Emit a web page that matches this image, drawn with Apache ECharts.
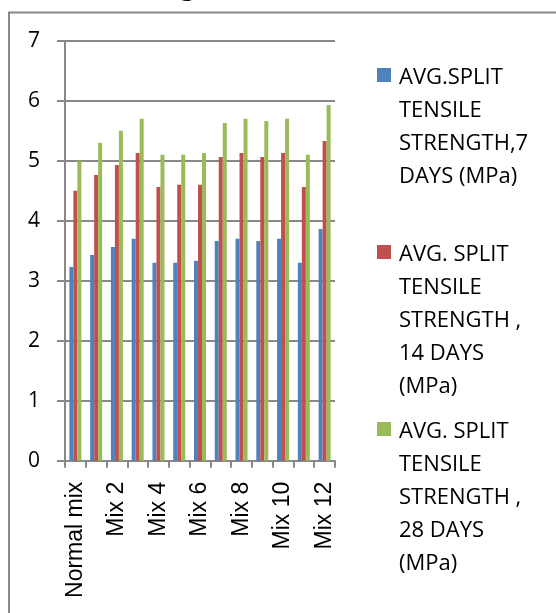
<!DOCTYPE html>
<html>
<head>
<meta charset="utf-8">
<script src="https://cdn.jsdelivr.net/npm/echarts@6/dist/echarts.min.js"></script>
<style>
  html, body { margin: 0; padding: 0; background: #fff; }
  #chart { width: 556px; height: 613px; }
</style>
</head>
<body>
<div id="chart"></div>
<script>
// Split tensile strength of the mixes at 7, 14 and 28 days
const categories = ['Normal mix', 'Mix 1', 'Mix 2', 'Mix 3', 'Mix 4', 'Mix 5', 'Mix 6',
                    'Mix 7', 'Mix 8', 'Mix 9', 'Mix 10', 'Mix 11', 'Mix 12'];
const days7  = [3.23, 3.43, 3.56, 3.70, 3.30, 3.30, 3.33, 3.66, 3.70, 3.66, 3.70, 3.30, 3.86];
const days14 = [4.50, 4.76, 4.93, 5.13, 4.56, 4.60, 4.60, 5.06, 5.13, 5.06, 5.13, 4.56, 5.33];
const days28 = [5.00, 5.30, 5.50, 5.70, 5.10, 5.10, 5.13, 5.63, 5.70, 5.66, 5.70, 5.10, 5.93];

const seriesNames = [
  'AVG.SPLIT TENSILE STRENGTH,7 DAYS (MPa)',
  'AVG. SPLIT TENSILE STRENGTH , 14 DAYS (MPa)',
  'AVG. SPLIT TENSILE STRENGTH , 28 DAYS (MPa)'
];
const legendLines = [
  ['AVG.SPLIT', 'TENSILE', 'STRENGTH,7', 'DAYS (MPa)'],
  ['AVG. SPLIT', 'TENSILE', 'STRENGTH ,', '14 DAYS', '(MPa)'],
  ['AVG. SPLIT', 'TENSILE', 'STRENGTH ,', '28 DAYS', '(MPa)']
];
const colors = ['#4F81BD', '#C0504D', '#9BBB59'];
const legendTops = [61, 238, 415];

const LINE_H = 33;
const axisGray = '#888888';

// legend swatch sits beside the first text line of a wrapped entry
function swatchPath(h) {
  return 'path://M0,0L0.01,0Z M17,' + h + 'L17.01,' + h + 'Z M0,7L14,7L14,21L0,21Z';
}

const legends = seriesNames.map((name, i) => {
  const h = legendLines[i].length * LINE_H;
  return {
    data: [{ name: name, icon: swatchPath(h) }],
    left: 377,
    top: legendTops[i],
    padding: 0,
    orient: 'vertical',
    itemWidth: 17,
    itemHeight: h,
    selectedMode: false,
    itemStyle: { borderWidth: 0 },
    formatter: () => legendLines[i].join('\n'),
    textStyle: {
      fontFamily: '"Open Sans"',
      fontSize: 22,
      lineHeight: LINE_H,
      color: '#000'
    }
  };
});

const chart = echarts.init(document.getElementById('chart'), null, { renderer: 'canvas' });
chart.setOption({
  animation: false,
  backgroundColor: '#fff',
  color: colors,
  grid: { left: 65, right: 221, top: 40.7, bottom: 152.3, containLabel: false },
  legend: legends,
  xAxis: {
    type: 'category',
    data: categories,
    axisLine: { lineStyle: { color: axisGray, width: 2 } },
    axisTick: { show: true, length: 7, interval: 0, lineStyle: { color: axisGray, width: 2 } },
    axisLabel: {
      interval: 1,
      rotate: 90,
      margin: 21,
      padding: [6, 0, 0, 0],
      color: '#000',
      fontFamily: '"Liberation Sans"',
      fontSize: 23
    },
    splitLine: { show: false }
  },
  yAxis: {
    type: 'value',
    min: 0,
    max: 7,
    interval: 1,
    axisLine: { show: true, lineStyle: { color: axisGray, width: 2 } },
    axisTick: { show: true, length: 8, lineStyle: { color: axisGray, width: 2 } },
    axisLabel: {
      margin: 25,
      color: '#000',
      fontFamily: '"Open Sans"',
      fontSize: 21
    },
    splitLine: { show: true, lineStyle: { color: axisGray, width: 2 } }
  },
  series: [
    { name: seriesNames[0], type: 'bar', data: days7,  barWidth: 4, barGap: '0%' },
    { name: seriesNames[1], type: 'bar', data: days14, barWidth: 4, barGap: '0%' },
    { name: seriesNames[2], type: 'bar', data: days28, barWidth: 4, barGap: '0%' }
  ],
  graphic: [
    {
      type: 'rect',
      shape: { x: 9, y: 12.5, width: 700, height: 800 },
      style: { fill: 'none', stroke: axisGray, lineWidth: 2 },
      silent: true
    },
    {
      type: 'text',
      x: 180,
      y: -26,
      style: {
        text: 'g',
        font: 'bold 28px "Liberation Serif"',
        fill: '#000',
        align: 'left'
      },
      silent: true
    }
  ]
});
</script>
</body>
</html>
